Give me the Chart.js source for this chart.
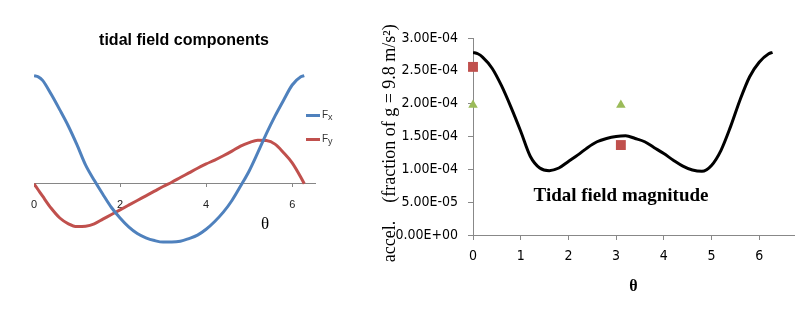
<!DOCTYPE html>
<html>
<head>
<meta charset="utf-8">
<script src="https://cdn.jsdelivr.net/npm/chart.js@4.4.1/dist/chart.umd.min.js"></script>
<style>
  html, body { margin: 0; padding: 0; background: #fff; }
  #page { position: relative; width: 807px; height: 324px; overflow: hidden; }
  .box { position: absolute; top: 0; height: 324px; }
  #leftBox { left: 0; width: 340px; }
  #rightBox { left: 340px; width: 467px; }
  .txt { position: absolute; white-space: nowrap; color: #000; z-index: 5; }
  #leftTitle { left: 0; width: 368px; top: 31px; line-height: 20px; text-align: center;
    font: bold 16px "Liberation Sans", Arial, sans-serif; }
  .leg { left: 306px; height: 14px; line-height: 14px; font: 10px "Liberation Sans", Arial, sans-serif; color: #333; }
  .leg span.sw { display: inline-block; width: 14px; height: 3px; vertical-align: middle; margin-right: 2px; }
  .leg sub { font-size: 9px; vertical-align: -2px; }
  #leftTheta { left: 255px; width: 20px; top: 214px; line-height: 22px; text-align: center;
    font: 17px "Liberation Serif", "Times New Roman", serif; }
  #magLabel { left: 521px; width: 200px; top: 184px; line-height: 24px; text-align: center;
    font: bold 19px "Liberation Serif", "Times New Roman", serif; }
</style>
</head>
<body>
<div id="page">
  <div class="box" id="leftBox"><canvas id="componentsChart"></canvas></div>
  <div class="box" id="rightBox"><canvas id="magnitudeChart"></canvas></div>
  <div class="txt" id="leftTitle">tidal field components</div>
  <div class="txt leg" style="top:109px"><span class="sw" style="background:#4F81BD"></span>F<sub>x</sub></div>
  <div class="txt leg" style="top:133px"><span class="sw" style="background:#C0504D"></span>F<sub>y</sub></div>
  <div class="txt" id="leftTheta">θ</div>
  <div class="txt" id="magLabel">Tidal field magnitude</div>
</div>
<script>
// theta (rad) sample points
const theta = [0, 0.1, 0.2, 0.4, 0.6, 0.8, 1.0, 1.2, 1.4, 1.6, 1.8, 2.0, 2.2, 2.4, 2.6, 2.8, 3.0,
               3.2, 3.4, 3.6, 3.8, 4.0, 4.2, 4.4, 4.6, 4.8, 5.0, 5.2, 5.4, 5.6, 5.8, 6.0, 6.2, 6.28];

// components (units of 1E-04 g)
const fx = [2.78, 2.75, 2.66, 2.30, 1.90, 1.48, 1.00, 0.48, 0.09, -0.27, -0.61, -0.88, -1.11, -1.28, -1.39, -1.46, -1.50,
            -1.50, -1.48, -1.41, -1.32, -1.17, -0.97, -0.73, -0.43, -0.06, 0.33, 0.80, 1.29, 1.74, 2.15, 2.54, 2.75, 2.78];
const fy = [0, -0.16, -0.32, -0.63, -0.88, -1.03, -1.10, -1.09, -1.03, -0.91, -0.79, -0.67, -0.55, -0.43, -0.31, -0.19, -0.07,
            0.04, 0.16, 0.28, 0.40, 0.51, 0.61, 0.72, 0.84, 0.97, 1.06, 1.12, 1.11, 1.02, 0.80, 0.54, 0.17, 0];

// magnitude (units of 1E-04 g)
const magnitude = [2.78, 2.76, 2.71, 2.54, 2.27, 1.94, 1.58, 1.20, 1.02, 0.98, 1.02, 1.12, 1.22, 1.33, 1.42, 1.47, 1.50,
                   1.51, 1.47, 1.42, 1.33, 1.24, 1.14, 1.05, 0.99, 0.97, 1.06, 1.29, 1.65, 2.06, 2.41, 2.63, 2.76, 2.78];

// measured points
const sqTheta = [0, 3.1];
const sqValue = [2.56, 1.37];
const triTheta = [0, 3.1];
const triValue = [1.98, 1.98];

const yTickLabels = ['0.00E+00', '5.00E-05', '1.00E-04', '1.50E-04', '2.00E-04', '2.50E-04', '3.00E-04'];

const pts = (xs, ys) => xs.map((x, i) => ({ x: x, y: ys[i] }));
const serif = '"Liberation Serif", "Times New Roman", serif';
const narrow = '"Liberation Sans Narrow", "DejaVu Sans Condensed", "Arial Narrow", sans-serif';

// Left: components
new Chart(document.getElementById('componentsChart'), {
    type: 'line',
    data: {
        datasets: [
            { label: 'Fx', data: pts(theta, fx), borderColor: '#4F81BD', borderWidth: 3, pointRadius: 0,
              cubicInterpolationMode: 'monotone' },
            { label: 'Fy', data: pts(theta, fy), borderColor: '#C0504D', borderWidth: 3, pointRadius: 0,
              cubicInterpolationMode: 'monotone' }
        ]
    },
    options: {
        responsive: true,
        maintainAspectRatio: false,
        animation: false,
        layout: { padding: { left: 34, right: 25, top: 71, bottom: 78 } },
        plugins: { legend: { display: false }, tooltip: { enabled: false } },
        scales: {
            x: {
                type: 'linear',
                position: { y: 0 },
                min: 0,
                max: 6.53,
                grid: { drawOnChartArea: false, tickLength: 3, color: '#868686' },
                border: { color: '#868686', dash: [2, 1] },
                ticks: { stepSize: 2, includeBounds: false, padding: 12, color: '#222',
                         font: { family: '"Liberation Sans", Arial, sans-serif', size: 11 } }
            },
            y: { display: false, min: -1.6, max: 2.9 }
        }
    }
});

// Right: magnitude
new Chart(document.getElementById('magnitudeChart'), {
    type: 'line',
    data: {
        datasets: [
            { label: 'magnitude', data: pts(theta, magnitude), borderColor: '#000', borderWidth: 3, pointRadius: 0,
              cubicInterpolationMode: 'monotone' },
            { type: 'scatter', label: 'sq', data: pts(sqTheta, sqValue), pointStyle: 'rect', pointRadius: 7,
              backgroundColor: '#C0504D', borderWidth: 0, clip: false },
            { type: 'scatter', label: 'tri', data: pts(triTheta, triValue), pointStyle: 'triangle', pointRadius: 5.5,
              backgroundColor: '#9BBB59', borderWidth: 0, clip: false }
        ]
    },
    options: {
        responsive: true,
        maintainAspectRatio: false,
        animation: false,
        layout: { padding: { left: 0, right: 13, top: 38, bottom: 28 } },
        plugins: { legend: { display: false }, tooltip: { enabled: false } },
        scales: {
            x: {
                type: 'linear',
                min: 0,
                max: 6.73,
                afterFit: function(scale) { scale.height = 61; },
                grid: { drawOnChartArea: false, tickLength: 5, color: '#888' },
                border: { color: '#888', dash: [2, 1] },
                ticks: { stepSize: 1, includeBounds: false, padding: 8, color: '#000',
                         font: { family: narrow, size: 14 } },
                title: { display: true, text: 'θ', color: '#000', padding: { top: 0, bottom: 0 },
                         font: { family: serif, size: 16, weight: 'bold' } }
            },
            y: {
                min: 0,
                max: 3,
                afterFit: function(scale) { scale.width = 133; },
                grid: { drawOnChartArea: false, tickLength: 5, color: '#888' },
                border: { color: '#888', dash: [2, 1] },
                ticks: {
                    stepSize: 0.5,
                    padding: 10,
                    color: '#000',
                    font: { family: narrow, size: 14 },
                    callback: function(value, index) { return yTickLabels[index]; }
                },
                // trailing spaces nudge the rotated title down a little
                title: { display: true, text: 'accel.    (fraction of g = 9.8 m/s²)   ', color: '#000',
                         padding: { top: 39, bottom: 0 }, font: { family: serif, size: 18 } }
            }
        }
    }
});
</script>
</body>
</html>
